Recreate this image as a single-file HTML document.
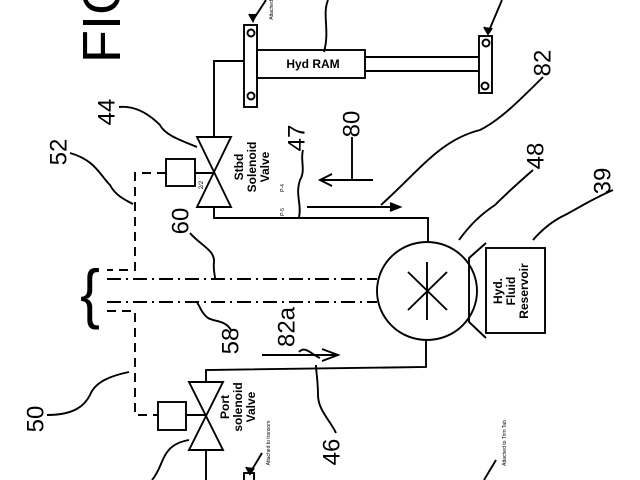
<!DOCTYPE html>
<html><head><style>html,body{margin:0;padding:0;background:#fff}svg{display:block}text{font-family:"Liberation Sans",sans-serif;fill:#000}</style></head><body>
<svg width="640" height="480" viewBox="0 0 640 480" xmlns="http://www.w3.org/2000/svg" fill="none" stroke="#000" stroke-width="1.9">
<!-- FIG -->
<text transform="translate(102,18) rotate(-90)" text-anchor="middle" dominant-baseline="central" font-size="54" stroke="none">FIG</text>
<!-- Ram -->
<rect x="244" y="25" width="13" height="82"/>
<circle cx="251" cy="33" r="3.5"/><circle cx="251" cy="96" r="3.5"/>
<rect x="257" y="50" width="108" height="28"/>
<text x="313" y="68" text-anchor="middle" font-size="12" stroke="none" font-weight="bold">Hyd RAM</text>
<line x1="365" y1="57" x2="479" y2="57"/><line x1="365" y1="71" x2="479" y2="71"/>
<rect x="479" y="36" width="13" height="57"/>
<circle cx="486" cy="43" r="3.5"/><circle cx="485" cy="86" r="3.5"/>
<path d="M244 61 H214 V137"/>
<!-- top leaders -->
<path d="M266 0 L253 20" /><path d="M249 14 L253 21 L256 14" fill="#000"/>
<text transform="translate(272,10) rotate(-90)" text-anchor="middle" dominant-baseline="central" font-size="5" stroke="none">Attached</text>
<path d="M328 0 C322 15 330 30 324 52"/>
<path d="M502 0 L488 33"/><path d="M484 27 L488 34 L492 28" fill="#000"/>
<!-- Stbd valve -->
<path d="M197 137 H231 L197 207 H231 Z"/>
<rect x="166" y="159" width="29" height="27"/>
<line x1="195" y1="173" x2="214" y2="173"/>
<text transform="translate(202,185) rotate(-90)" text-anchor="middle" dominant-baseline="central" font-size="6" stroke="none">2/2</text>
<text transform="translate(252,167) rotate(-90)" text-anchor="middle" font-size="12" stroke="none" font-weight="bold"><tspan x="0" y="-9">Stbd</tspan><tspan x="0" y="4">Solenoid</tspan><tspan x="0" y="17">Valve</tspan></text>
<path d="M214 207 V218 H428 V242"/>
<text transform="translate(283,188) rotate(-90)" text-anchor="middle" dominant-baseline="central" font-size="5" stroke="none">P-4</text>
<text transform="translate(283,212) rotate(-90)" text-anchor="middle" dominant-baseline="central" font-size="5" stroke="none">P-5</text>
<!-- dashed control -->
<g stroke-dasharray="9,6">
<path d="M166 173 H135 V270 H107"/>
<path d="M107 311 H135 V415 H158"/>
</g>
<g stroke-dasharray="14,5,2,5">
<line x1="107" y1="279" x2="377" y2="279"/>
<line x1="107" y1="302" x2="377" y2="302"/>
</g>
<text transform="translate(90,294) scale(0.9,1)" text-anchor="middle" dominant-baseline="central" font-size="66" stroke="none">{</text>
<!-- pump -->
<ellipse cx="427" cy="291" rx="50" ry="49"/>
<line x1="427" y1="262" x2="427" y2="320"/>
<line x1="408" y1="272" x2="447" y2="310"/><line x1="447" y1="272" x2="408" y2="310"/>
<path d="M486 243 L469 258 V322 L486 338"/>
<rect x="486" y="248" width="59" height="85"/>
<text transform="translate(511,291) rotate(-90)" text-anchor="middle" font-size="12" stroke="none" font-weight="bold"><tspan x="0" y="-9">Hyd.</tspan><tspan x="0" y="4">Fluid</tspan><tspan x="0" y="17">Reservoir</tspan></text>
<!-- port valve -->
<path d="M426 340 V367 L206 370 V382"/>
<path d="M189 382 H223 L189 450 H223 Z"/>
<rect x="158" y="402" width="28" height="28"/>
<line x1="186" y1="415" x2="206" y2="415"/>
<line x1="206" y1="450" x2="206" y2="480"/>
<text transform="translate(238,407) rotate(-90)" text-anchor="middle" font-size="12" stroke="none" font-weight="bold"><tspan x="0" y="-9">Port</tspan><tspan x="0" y="4">solenoid</tspan><tspan x="0" y="17">Valve</tspan></text>
<text transform="translate(269,443) rotate(-90)" text-anchor="middle" dominant-baseline="central" font-size="5" stroke="none">Attached to transom</text>
<path d="M262 453 L250 473"/><path d="M246 467 L250 474 L254 468" fill="#000"/>
<rect x="244" y="473" width="10" height="10"/>
<text transform="translate(505,443) rotate(-90)" text-anchor="middle" dominant-baseline="central" font-size="5" stroke="none">Attached to Trim Tab</text>
<path d="M496 460 L484 480"/>
<path d="M189 440 C160 445 165 465 152 480"/>
<!-- flow arrows -->
<path d="M373 180 H320"/><path d="M332 174 L320 180 L332 186"/>
<path d="M307 207 H400"/><path d="M390 203 L400 207 L390 211" fill="#000"/>
<path d="M262 355 H338"/><path d="M322 349 L338 355 L322 361"/>
<!-- numbers -->
<g stroke="none" font-size="24">
<text transform="translate(107,112) rotate(-90)" text-anchor="middle" dominant-baseline="central">44</text>
<text transform="translate(59,152) rotate(-90)" text-anchor="middle" dominant-baseline="central">52</text>
<text transform="translate(297,138) rotate(-90)" text-anchor="middle" dominant-baseline="central">47</text>
<text transform="translate(352,124) rotate(-90)" text-anchor="middle" dominant-baseline="central">80</text>
<text transform="translate(543,63) rotate(-90)" text-anchor="middle" dominant-baseline="central">82</text>
<text transform="translate(536,156) rotate(-90)" text-anchor="middle" dominant-baseline="central">48</text>
<text transform="translate(603,181) rotate(-90)" text-anchor="middle" dominant-baseline="central">39</text>
<text transform="translate(181,221) rotate(-90)" text-anchor="middle" dominant-baseline="central">60</text>
<text transform="translate(231,341) rotate(-90)" text-anchor="middle" dominant-baseline="central">58</text>
<text transform="translate(287,327) rotate(-90)" text-anchor="middle" dominant-baseline="central">82a</text>
<text transform="translate(332,452) rotate(-90)" text-anchor="middle" dominant-baseline="central">46</text>
<text transform="translate(36,419) rotate(-90)" text-anchor="middle" dominant-baseline="central">50</text>
</g>
<!-- leaders -->
<path d="M119 107 C140 105 155 120 160 125 C165 135 180 140 197 147"/>
<path d="M70 153 C95 160 100 175 110 185 C115 195 125 200 133 204"/>
<path d="M303 150 C300 160 306 170 300 180 C295 195 302 205 299 217"/>
<path d="M352 137 V180"/>
<path d="M543 77 C520 100 500 120 480 130 C440 140 420 170 381 205"/>
<path d="M533 170 C510 190 500 200 495 205 C480 215 470 225 459 240"/>
<path d="M613 190 C590 200 575 210 565 215 C550 222 540 232 533 240"/>
<path d="M190 233 C200 245 215 250 214 262 C213 270 215 275 215 278"/>
<path d="M231 330 C225 320 215 322 208 318 C200 312 200 305 197 303"/>
<path d="M299 352 C305 345 312 355 320 358"/>
<path d="M336 433 C330 420 318 410 318 395 C318 380 316 372 316 365"/>
<path d="M47 415 C75 415 85 405 90 395 C95 382 110 376 129 372"/>
</svg>
</body></html>
